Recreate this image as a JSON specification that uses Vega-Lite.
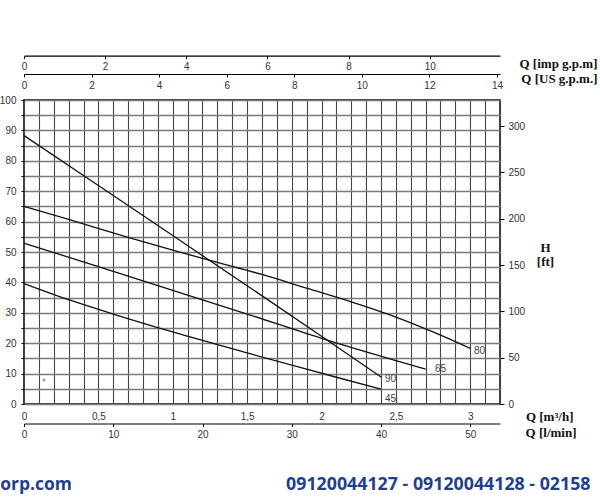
{
  "$schema": "https://vega.github.io/schema/vega-lite/v6.json",
  "width": 476,
  "height": 304,
  "autosize": {"type": "none"},
  "padding": {"left": 24, "top": 100, "right": 100, "bottom": 97},
  "background": "white",
  "config": {
    "view": {"stroke": "#000", "strokeWidth": 1.5},
    "axis": {
      "labelFont": "Liberation Sans",
      "labelFontSize": 10,
      "labelColor": "#333",
      "titleFont": "Liberation Serif",
      "titleFontSize": 13,
      "titleFontWeight": "bold",
      "titleColor": "#111",
      "tickColor": "#000",
      "domainColor": "#000",
      "labelFlush": false,
      "labelOverlap": false,
      "grid": false
    }
  },
  "datasets": {
    "curves": [
      {"pump": "90", "q": 0, "h": 88.3},
      {"pump": "90", "q": 0.5, "h": 71.9},
      {"pump": "90", "q": 1.0, "h": 55.4},
      {"pump": "90", "q": 1.5, "h": 38.9},
      {"pump": "90", "q": 2.0, "h": 22.3},
      {"pump": "90", "q": 2.4, "h": 8.9},
      {"pump": "80", "q": 0, "h": 65.0},
      {"pump": "80", "q": 0.3, "h": 60.7},
      {"pump": "80", "q": 0.7, "h": 54.8},
      {"pump": "80", "q": 1.0, "h": 50.6},
      {"pump": "80", "q": 1.3, "h": 46.6},
      {"pump": "80", "q": 1.6, "h": 42.6},
      {"pump": "80", "q": 1.9, "h": 38.1},
      {"pump": "80", "q": 2.2, "h": 33.6},
      {"pump": "80", "q": 2.5, "h": 28.6},
      {"pump": "80", "q": 2.75, "h": 23.7},
      {"pump": "80", "q": 3.0, "h": 18.3},
      {"pump": "65", "q": 0, "h": 52.9},
      {"pump": "65", "q": 0.5, "h": 45.2},
      {"pump": "65", "q": 1.0, "h": 37.4},
      {"pump": "65", "q": 1.5, "h": 29.6},
      {"pump": "65", "q": 2.0, "h": 21.6},
      {"pump": "65", "q": 2.5, "h": 14.3},
      {"pump": "65", "q": 2.7, "h": 11.5},
      {"pump": "45", "q": 0, "h": 39.6},
      {"pump": "45", "q": 0.3, "h": 34.3},
      {"pump": "45", "q": 0.6, "h": 29.6},
      {"pump": "45", "q": 1.0, "h": 23.7},
      {"pump": "45", "q": 1.5, "h": 16.8},
      {"pump": "45", "q": 1.85, "h": 12.1},
      {"pump": "45", "q": 2.1, "h": 8.8},
      {"pump": "45", "q": 2.4, "h": 4.9}
    ],
    "labels": [
      {"pump": "80", "q": 3.025, "h": 17.3},
      {"pump": "65", "q": 2.763, "h": 11.4},
      {"pump": "90", "q": 2.427, "h": 8.1},
      {"pump": "45", "q": 2.427, "h": 1.7}
    ],
    "dot": [{"q": 0.134, "h": 7.9}]
  },
  "layer": [
    {
      "layer": [
        {
          "data": {"name": "curves"},
          "mark": {"type": "line", "color": "#111", "strokeWidth": 1.3, "interpolate": "monotone"},
          "encoding": {
            "x": {
              "field": "q", "type": "quantitative",
              "scale": {"domain": [0, 3.2], "nice": false, "zero": false},
              "axis": {
                "orient": "bottom",
                "values": [0,0.1,0.2,0.3,0.4,0.5,0.6,0.7,0.8,0.9,1,1.1,1.2,1.3,1.4,1.5,1.6,1.7,1.8,1.9,2,2.1,2.2,2.3,2.4,2.5,2.6,2.7,2.8,2.9,3,3.1,3.2],
                "labelExpr": "abs(datum.value*2 - round(datum.value*2)) < 0.001 && datum.value < 3.1 ? replace(format(datum.value, '~g'), '.', ',') : ''",
                "grid": true, "gridColor": "#444", "gridWidth": 1.1,
                "ticks": false, "domain": false, "labelPadding": 7,
                "title": "Q [m³/h]", "titleX": 549, "titleY": 12.7, "titleAlign": "right", "titleBaseline": "middle"
              }
            },
            "y": {
              "field": "h", "type": "quantitative",
              "scale": {"domain": [0, 100], "nice": false},
              "axis": {
                "orient": "left",
                "values": [0,5,10,15,20,25,30,35,40,45,50,55,60,65,70,75,80,85,90,95,100],
                "labelExpr": "datum.value % 10 === 0 ? datum.label : ''",
                "grid": true, "gridColor": "#7a7a7a", "gridWidth": 1.3,
                "tickSize": 3, "labelPadding": 5, "domain": false, "title": null
              }
            },
            "detail": {"field": "pump"}
          }
        },
        {
          "data": {"name": "labels"},
          "mark": {"type": "text", "align": "left", "baseline": "middle", "font": "Liberation Sans", "fontSize": 10, "color": "#444"},
          "encoding": {
            "x": {
              "field": "q", "type": "quantitative",
              "scale": {"domain": [0, 3.2], "nice": false, "zero": false},
              "axis": {
                "orient": "bottom",
                "values": [0,0.1,0.2,0.3,0.4,0.5,0.6,0.7,0.8,0.9,1,1.1,1.2,1.3,1.4,1.5,1.6,1.7,1.8,1.9,2,2.1,2.2,2.3,2.4,2.5,2.6,2.7,2.8,2.9,3,3.1,3.2],
                "labelExpr": "abs(datum.value*2 - round(datum.value*2)) < 0.001 && datum.value < 3.1 ? replace(format(datum.value, '~g'), '.', ',') : ''",
                "grid": true, "gridColor": "#444", "gridWidth": 1.1,
                "ticks": false, "domain": false, "labelPadding": 7,
                "title": "Q [m³/h]", "titleX": 549, "titleY": 12.7, "titleAlign": "right", "titleBaseline": "middle"
              }
            },
            "y": {
              "field": "h", "type": "quantitative",
              "scale": {"domain": [0, 100], "nice": false},
              "axis": {
                "orient": "left",
                "values": [0,5,10,15,20,25,30,35,40,45,50,55,60,65,70,75,80,85,90,95,100],
                "labelExpr": "datum.value % 10 === 0 ? datum.label : ''",
                "grid": true, "gridColor": "#7a7a7a", "gridWidth": 1.3,
                "tickSize": 3, "labelPadding": 5, "domain": false, "title": null
              }
            },
            "text": {"field": "pump"}
          }
        },
        {
          "data": {"name": "dot"},
          "mark": {"type": "point", "shape": "cross", "size": 8, "filled": true, "color": "#444"},
          "encoding": {
            "x": {
              "field": "q", "type": "quantitative",
              "scale": {"domain": [0, 3.2], "nice": false, "zero": false},
              "axis": {
                "orient": "bottom",
                "values": [0,0.1,0.2,0.3,0.4,0.5,0.6,0.7,0.8,0.9,1,1.1,1.2,1.3,1.4,1.5,1.6,1.7,1.8,1.9,2,2.1,2.2,2.3,2.4,2.5,2.6,2.7,2.8,2.9,3,3.1,3.2],
                "labelExpr": "abs(datum.value*2 - round(datum.value*2)) < 0.001 && datum.value < 3.1 ? replace(format(datum.value, '~g'), '.', ',') : ''",
                "grid": true, "gridColor": "#444", "gridWidth": 1.1,
                "ticks": false, "domain": false, "labelPadding": 7,
                "title": "Q [m³/h]", "titleX": 549, "titleY": 12.7, "titleAlign": "right", "titleBaseline": "middle"
              }
            },
            "y": {
              "field": "h", "type": "quantitative",
              "scale": {"domain": [0, 100], "nice": false},
              "axis": {
                "orient": "left",
                "values": [0,5,10,15,20,25,30,35,40,45,50,55,60,65,70,75,80,85,90,95,100],
                "labelExpr": "datum.value % 10 === 0 ? datum.label : ''",
                "grid": true, "gridColor": "#7a7a7a", "gridWidth": 1.3,
                "tickSize": 3, "labelPadding": 5, "domain": false, "title": null
              }
            }
          }
        },
        {
          "data": {"values": [{"text": "orp.com"}]},
          "mark": {"type": "text", "align": "right", "baseline": "middle", "font": "Open Sans", "fontWeight": "bold", "fontSize": 17.5, "color": "#223f8f"},
          "encoding": {
            "x": {
              "datum": 0.3227, "type": "quantitative",
              "scale": {"domain": [0, 3.2], "nice": false, "zero": false},
              "axis": {
                "orient": "bottom",
                "values": [0,0.1,0.2,0.3,0.4,0.5,0.6,0.7,0.8,0.9,1,1.1,1.2,1.3,1.4,1.5,1.6,1.7,1.8,1.9,2,2.1,2.2,2.3,2.4,2.5,2.6,2.7,2.8,2.9,3,3.1,3.2],
                "labelExpr": "abs(datum.value*2 - round(datum.value*2)) < 0.001 && datum.value < 3.1 ? replace(format(datum.value, '~g'), '.', ',') : ''",
                "grid": true, "gridColor": "#444", "gridWidth": 1.1,
                "ticks": false, "domain": false, "labelPadding": 7,
                "title": "Q [m³/h]", "titleX": 549, "titleY": 12.7, "titleAlign": "right", "titleBaseline": "middle"
              }
            },
            "y": {
              "datum": -26.5, "type": "quantitative",
              "scale": {"domain": [0, 100], "nice": false},
              "axis": {
                "orient": "left",
                "values": [0,5,10,15,20,25,30,35,40,45,50,55,60,65,70,75,80,85,90,95,100],
                "labelExpr": "datum.value % 10 === 0 ? datum.label : ''",
                "grid": true, "gridColor": "#7a7a7a", "gridWidth": 1.3,
                "tickSize": 3, "labelPadding": 5, "domain": false, "title": null
              }
            },
            "text": {"field": "text"}
          }
        },
        {
          "data": {"values": [{"text": "09120044127 - 09120044128 - 02158"}]},
          "mark": {"type": "text", "align": "left", "baseline": "middle", "font": "Open Sans", "fontWeight": "bold", "fontSize": 17.8, "color": "#223f8f"},
          "encoding": {
            "x": {
              "datum": 1.762, "type": "quantitative",
              "scale": {"domain": [0, 3.2], "nice": false, "zero": false},
              "axis": {
                "orient": "bottom",
                "values": [0,0.1,0.2,0.3,0.4,0.5,0.6,0.7,0.8,0.9,1,1.1,1.2,1.3,1.4,1.5,1.6,1.7,1.8,1.9,2,2.1,2.2,2.3,2.4,2.5,2.6,2.7,2.8,2.9,3,3.1,3.2],
                "labelExpr": "abs(datum.value*2 - round(datum.value*2)) < 0.001 && datum.value < 3.1 ? replace(format(datum.value, '~g'), '.', ',') : ''",
                "grid": true, "gridColor": "#444", "gridWidth": 1.1,
                "ticks": false, "domain": false, "labelPadding": 7,
                "title": "Q [m³/h]", "titleX": 549, "titleY": 12.7, "titleAlign": "right", "titleBaseline": "middle"
              }
            },
            "y": {
              "datum": -26.5, "type": "quantitative",
              "scale": {"domain": [0, 100], "nice": false},
              "axis": {
                "orient": "left",
                "values": [0,5,10,15,20,25,30,35,40,45,50,55,60,65,70,75,80,85,90,95,100],
                "labelExpr": "datum.value % 10 === 0 ? datum.label : ''",
                "grid": true, "gridColor": "#7a7a7a", "gridWidth": 1.3,
                "tickSize": 3, "labelPadding": 5, "domain": false, "title": null
              }
            },
            "text": {"field": "text"}
          }
        }
      ]
    },
    {
      "data": {"values": [{}]},
      "mark": {"type": "rule", "opacity": 0},
      "encoding": {
        "y": {
          "datum": 0, "type": "quantitative",
          "scale": {"domain": [0, 328.084], "nice": false},
          "axis": {
            "orient": "right",
            "values": [0, 50, 100, 150, 200, 250, 300],
            "tickSize": 4, "labelPadding": 4, "domain": false, "grid": false,
            "title": ["H", "[ft]"], "titleAngle": 0, "titleX": 45, "titleY": 147,
            "titleAlign": "center", "titleBaseline": "middle", "titleLineHeight": 14
          }
        }
      }
    },
    {
      "data": {"values": [{}]},
      "mark": {"type": "rule", "opacity": 0},
      "encoding": {
        "x": {
          "datum": 0, "type": "quantitative",
          "scale": {"domain": [0, 53.333], "nice": false, "zero": false},
          "axis": {
            "orient": "bottom", "offset": 19.5,
            "values": [0, 10, 20, 30, 40, 50],
            "tickSize": 3, "labelPadding": 3, "domain": true, "domainWidth": 1.2, "grid": false,
            "title": "Q [l/min]", "titleX": 552, "titleY": 8.8, "titleAlign": "right", "titleBaseline": "middle"
          }
        }
      }
    },
    {
      "data": {"values": [{}]},
      "mark": {"type": "rule", "opacity": 0},
      "encoding": {
        "x": {
          "datum": 0, "type": "quantitative",
          "scale": {"domain": [0, 11.732], "nice": false, "zero": false},
          "axis": {
            "orient": "bottom", "offset": -348.3,
            "values": [0, 2, 4, 6, 8, 10],
            "tickSize": 3, "labelPadding": 2.5, "domain": true, "domainWidth": 1.2, "grid": false,
            "title": "Q [imp g.p.m]", "titleX": 573, "titleY": 7.3, "titleAlign": "right", "titleBaseline": "middle"
          }
        }
      }
    },
    {
      "data": {"values": [{}]},
      "mark": {"type": "rule", "opacity": 0},
      "encoding": {
        "x": {
          "datum": 0, "type": "quantitative",
          "scale": {"domain": [0, 14.089], "nice": false, "zero": false},
          "axis": {
            "orient": "bottom", "offset": -330,
            "values": [0, 2, 4, 6, 8, 10, 12, 14],
            "tickSize": 3, "labelPadding": 3, "domain": true, "domainWidth": 1.2, "grid": false,
            "title": "Q [US g.p.m.]", "titleX": 573, "titleY": 4.8, "titleAlign": "right", "titleBaseline": "middle"
          }
        }
      }
    }
  ],
  "resolve": {
    "scale": {"x": "independent", "y": "independent"},
    "axis": {"x": "independent", "y": "independent"}
  }
}
